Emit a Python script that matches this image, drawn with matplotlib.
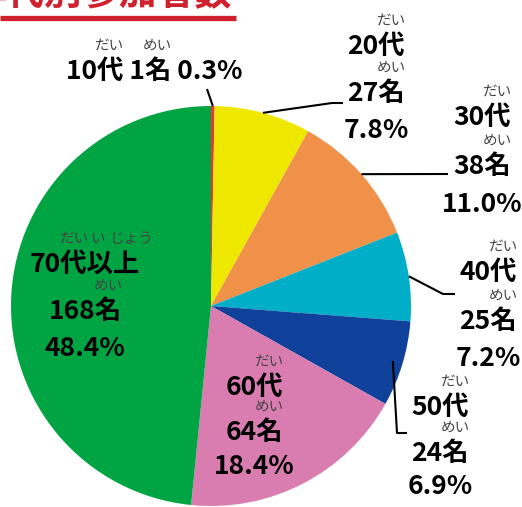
import numpy as np
import matplotlib
matplotlib.use("Agg")
import matplotlib.pyplot as plt

FONT = ["Noto Sans CJK JP", "DejaVu Sans"]
plt.rcParams["font.family"] = FONT

# data
ages = ["10代", "20代", "30代", "40代", "50代", "60代", "70代以上"]
counts = [1, 27, 38, 25, 24, 64, 168]
# (character, reading, small nudge in px)
age_ruby = [
    [("代", "だい", 0)],
    [("代", "だい", 0)],
    [("代", "だい", 0)],
    [("代", "だい", 0)],
    [("代", "だい", 0)],
    [("代", "だい", 0)],
    [("代", "だい", 0), ("以", "い", -3), ("上", "じょう", 5)],
]
colors = ["#e63a2e", "#eee800", "#f0914a", "#00aec7", "#0f419a", "#d97db1", "#00a443"]
title = "年代別参加者数"

total = sum(counts)
percents = [f"{c / total * 100:.1f}%" for c in counts]

# label layout (pixel coords): block centre x, first line y, line gaps
label_pos = [(154, 71), (376, 46), (482, 117), (488, 272), (440, 407), (254, 387), (85, 264)]
line_gaps = [None, (47, 84), (49, 87), (49, 87), (46, 79), (45, 79), (47, 84)]
leaders = [
    [(207, 89)],
    [(332, 103), (343, 103)],
    [(448, 174)],
    [(443, 294), (455, 294)],
    [(397, 433), (407, 433)],
    None,
    None,
]
leader_r = [1.0, 1.0, 1.0, 1.0, 0.95, 1.0, 1.0]

W, H = 522, 507
fig = plt.figure(figsize=(W / 100, H / 100), dpi=100)
ax = fig.add_axes([0, 0, 1, 1])

cx, cy, R = 211, 306, 200
wedges, _ = ax.pie(counts, colors=colors, startangle=-90, counterclock=True,
                   center=(cx, cy), radius=R, wedgeprops=dict(linewidth=0))
ax.set_xlim(0, W)
ax.set_ylim(H, 0)
ax.axis("off")

renderer = fig.canvas.get_renderer()
MAIN = 19
RUBY = 10.5


def text_w(s, size, weight="bold"):
    t = ax.text(0, 0, s, fontsize=size, fontweight=weight)
    w = t.get_window_extent(renderer).width
    t.remove()
    return w


def ruby_line(x, y, s, rubies):
    # centred bold line with small readings above given characters
    ax.text(x, y, s, fontsize=MAIN, fontweight="bold", ha="center", va="center")
    full = text_w(s, MAIN)
    left = x - full / 2
    for ch, rd, dx in rubies:
        i = s.index(ch)
        p = text_w(s[:i], MAIN) if i > 0 else 0
        k = text_w(ch, MAIN)
        ax.text(left + p + k / 2 + dx, y - 25, rd, fontsize=RUBY, color="#444444",
                ha="center", va="center")


for i, w in enumerate(wedges):
    bx, by = label_pos[i]
    if i == 0:
        ruby_line(bx, by, f"{ages[i]} {counts[i]}名 {percents[i]}",
                  age_ruby[i] + [("名", "めい", 0)])
    else:
        g2, g3 = line_gaps[i]
        ruby_line(bx, by, ages[i], age_ruby[i])
        ruby_line(bx, by + g2, f"{counts[i]}名", [("名", "めい", 0)])
        ax.text(bx, by + g3, percents[i], fontsize=MAIN, fontweight="bold",
                ha="center", va="center")
    if leaders[i]:
        mid = np.deg2rad((w.theta1 + w.theta2) / 2)
        r = R * leader_r[i]
        pts = [(cx + r * np.cos(mid), cy + r * np.sin(mid))] + leaders[i]
        xs, ys = zip(*pts)
        ax.plot(xs, ys, color="black", lw=1.5, solid_capstyle="butt")

# title (cropped at the top in the original)
ax.text(232, -6, title, fontsize=27, fontweight="bold", color="#d01f2d",
        ha="right", va="center")
ax.plot([0, 236], [18, 18], color="#d01f2d", lw=3.8, solid_capstyle="butt")

fig.savefig("out.png", dpi=100)
